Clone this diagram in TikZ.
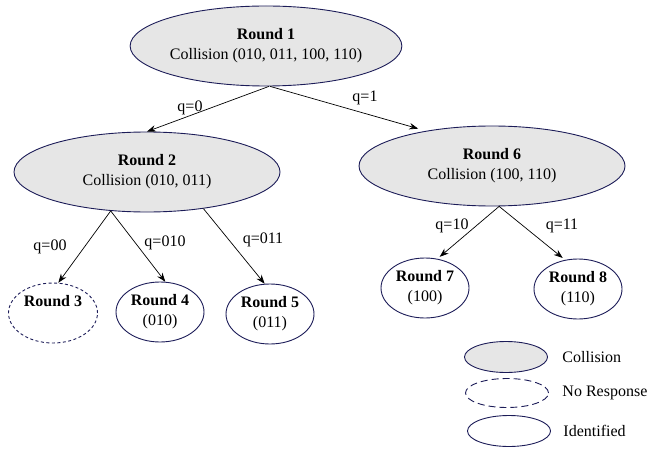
\documentclass[tikz,border=0pt]{standalone}
\usepackage{fontspec}
\setmainfont{Liberation Serif}
\usetikzlibrary{shapes,arrows.meta,positioning}

\definecolor{rimblue}{RGB}{28,28,88}
\definecolor{collgray}{RGB}{230,230,230}

\tikzset{
    roundnode/.style={ellipse, draw=rimblue, line width=0.9pt, inner sep=0pt, align=center},
    collision/.style={roundnode, fill=collgray, minimum width=266pt, minimum height=80pt},
    identified/.style={roundnode, minimum width=88pt, minimum height=60pt},
    noresponse/.style={roundnode, dash pattern=on 3pt off 2.5pt, minimum width=89pt, minimum height=60pt},
    branch/.style={->, line width=0.7pt}
}

\begin{document}
\begin{tikzpicture}[
    x=1pt, y=-1pt,
    font=\fontsize{16}{20}\selectfont,
    >={Stealth[length=9pt,width=6.5pt]}
]
\useasboundingbox (0,0) rectangle (668,449);

% Top of the tree
\node [collision] (r1) at (266,46) {\textbf{Round 1}\\Collision (010, 011, 100, 110)};

% Second level
\node [collision] (r2) at (147,172) {\textbf{Round 2}\\Collision (010, 011)};
\node [collision] (r6) at (492,166) {\textbf{Round 6}\\Collision (100, 110)};

% Leaves
\node [noresponse] (r3) at (53,313) {\textbf{Round 3}\\\phantom{(000)}};
\node [identified] (r4) at (160,312) {\textbf{Round 4}\\(010)};
\node [identified] (r5) at (270,314) {\textbf{Round 5}\\(011)};
\node [identified] (r7) at (425,288) {\textbf{Round 7}\\(100)};
\node [identified] (r8) at (578,289) {\textbf{Round 8}\\(110)};

% Branches
\draw [branch] (r1.-86) -- (r2.north);
\draw [branch, shorten >=8pt] (r1.-84) -- (r6.152);
\draw [branch] (r2.-133) -- (r3.80);
\draw [branch] (r2.-133) -- (r4.80);
\draw [branch] (r2.-33) -- (r5.100);
\draw [branch, shorten >=3pt] (r6.-80) -- (r7.67);
\draw [branch, shorten >=3pt] (r6.-80) -- (r8.114);

% Query labels
\node (q0) at (190,108) {q=0};
\node (q1) at (365,98) {q=1};
\node (q00) at (50,247) {q=00};
\node (q010) at (165,243) {q=010};
\node (q011) at (263,240) {q=011};
\node (q10) at (452,226) {q=10};
\node (q11) at (562,226) {q=11};

% Legend
\node [collision, minimum width=83pt, minimum height=31pt] (kc) at (506,357) {};
\node [noresponse, dash pattern=on 7pt off 4pt, minimum width=83pt, minimum height=29pt] (kn) at (507,393) {};
\node [identified, minimum width=83pt, minimum height=31pt] (ki) at (509,431) {};
\node [right=11pt of kc] (tc) {Collision};
\node [right=10pt of kn] (tn) {No Response};
\node [right=9pt of ki] (ti) {Identified};

\end{tikzpicture}
\end{document}
